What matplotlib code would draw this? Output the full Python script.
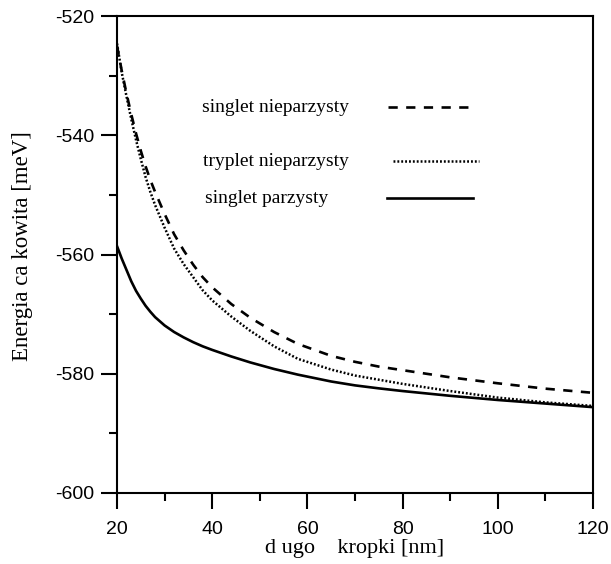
import matplotlib

matplotlib.use("Agg")
import matplotlib.pyplot as plt
from matplotlib.ticker import MultipleLocator

plt.rcParams["axes.unicode_minus"] = False

# dot length [nm]
length_nm = [20, 21, 22, 23, 24, 25, 26, 27, 28, 30, 32, 34, 36, 38, 40, 44, 48, 53,
             58, 65, 70, 75, 80, 90, 100, 110, 120]

# total energy [meV]
singlet_odd = [-525.0, -529.2, -533.0, -536.5, -539.7, -542.6, -545.2, -547.5, -549.5,
               -553.2, -556.6, -559.3, -561.7, -563.8, -565.5, -568.3, -570.6, -573.0,
               -575.0, -577.0, -578.0, -578.8, -579.4, -580.6, -581.6, -582.5, -583.2]
triplet_odd = [-524.6, -529.5, -533.5, -537.3, -540.8, -544.0, -547.0, -549.5, -551.7,
               -555.5, -559.0, -561.6, -563.8, -566.0, -567.7, -570.4, -572.8, -575.4,
               -577.5, -579.3, -580.3, -581.0, -581.7, -582.9, -584.0, -584.8, -585.4]
singlet_even = [-558.6, -560.7, -562.6, -564.5, -566.1, -567.4, -568.6, -569.6, -570.5,
                -571.9, -573.0, -573.9, -574.7, -575.4, -576.0, -577.1, -578.1, -579.2,
                -580.15, -581.3, -581.95, -582.45, -582.9, -583.7, -584.4, -585.0, -585.6]

SERIES = [
    ("singlet nieparzysty", singlet_odd, dict(linestyle=(0, (3.5, 3.2)), linewidth=1.9)),
    ("tryplet nieparzysty", triplet_odd, dict(linestyle=(0, (0.75, 0.8)), linewidth=1.8)),
    ("singlet parzysty", singlet_even, dict(linestyle="-", linewidth=1.9)),
]
# hand-placed key (axes fraction): text x, y, line x0, x1
KEY_POS = [
    (0.179, 0.809, 0.569, 0.737),
    (0.181, 0.695, 0.579, 0.761),
    (0.185, 0.618, 0.567, 0.748),
]

SERIF = "Liberation Serif"
SANS = "Liberation Sans"

fig = plt.figure(figsize=(6.11, 5.64), dpi=100)
ax = fig.add_axes([0.1915, 0.1259, 0.779, 0.8457])

for (label, values, style), (tx, ty, x0, x1) in zip(SERIES, KEY_POS):
    ax.plot(length_nm, values, color="black", **style)
    ax.text(tx, ty, label, transform=ax.transAxes, family=SERIF, fontsize=14,
            ha="left", va="center")
    ax.plot([x0, x1], [ty, ty], transform=ax.transAxes, color="black", **style)

ax.set_xlim(20, 120)
ax.set_ylim(-600, -520)
ax.xaxis.set_major_locator(MultipleLocator(20))
ax.xaxis.set_minor_locator(MultipleLocator(10))
ax.yaxis.set_major_locator(MultipleLocator(20))
ax.yaxis.set_minor_locator(MultipleLocator(10))

for spine in ax.spines.values():
    spine.set_linewidth(1.5)
ax.tick_params(which="both", direction="out", top=False, right=False, width=1.5)
ax.tick_params(which="major", length=11.5, labelsize=14)
ax.tick_params(axis="x", which="major", pad=8.5)
ax.tick_params(axis="y", which="major", pad=5)
ax.tick_params(which="minor", length=6)
for lab in ax.get_xticklabels() + ax.get_yticklabels():
    lab.set_family(SANS)

ax.set_xlabel("d ugo    kropki [nm]", family=SERIF, fontsize=16, labelpad=1)
ax.set_ylabel("Energia ca kowita [meV]", family=SERIF, fontsize=16.5)
ax.yaxis.set_label_coords(-0.176, 0.517)

fig.savefig("out.png", dpi=100)
